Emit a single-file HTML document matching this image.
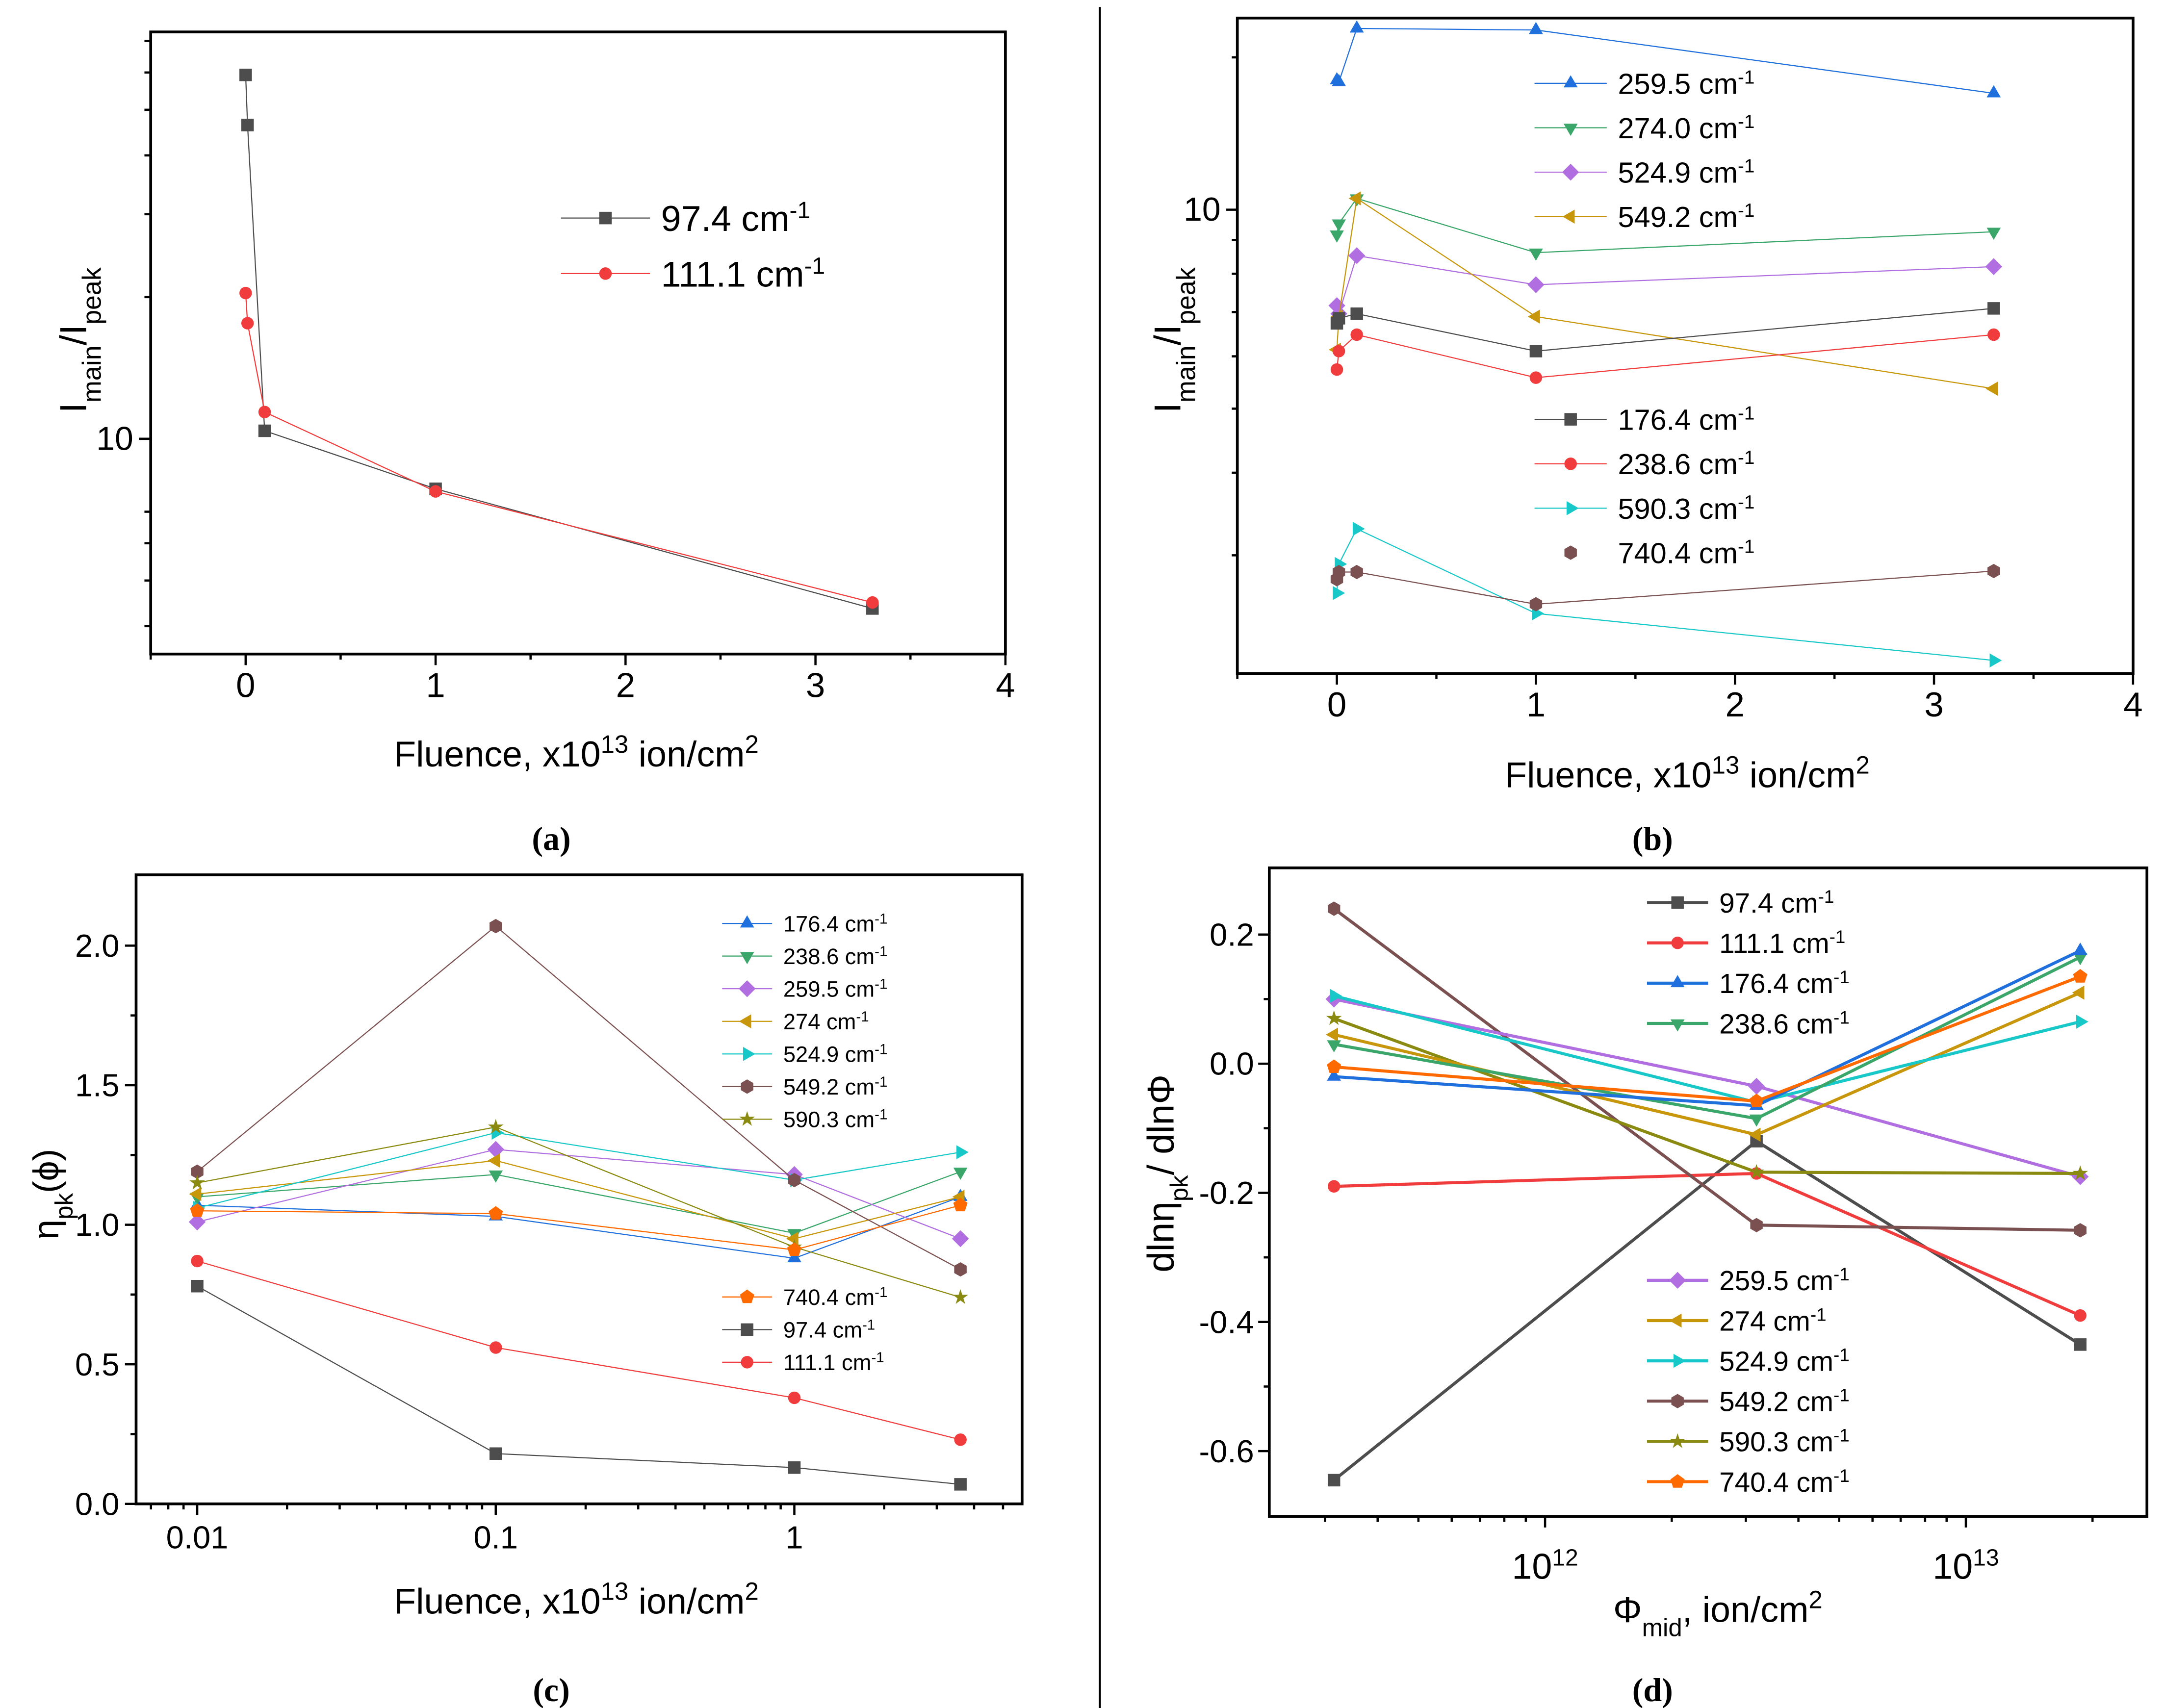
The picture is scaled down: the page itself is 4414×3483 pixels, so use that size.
<!DOCTYPE html>
<html><head><meta charset="utf-8"><style>html,body{margin:0;padding:0;background:#fff}svg{display:block}text{font-family:"Liberation Sans",sans-serif;fill:#000}</style></head>
<body>
<svg id="fig" xmlns="http://www.w3.org/2000/svg" width="4414" height="3483" viewBox="0 0 1559 1230" preserveAspectRatio="none">
<rect x="0" y="0" width="1559" height="1230" fill="#fff"/>
<line x1="792" y1="5" x2="792" y2="1232" stroke="#000" stroke-width="1.5"/>
<text transform="translate(62,245) rotate(-90)" text-anchor="middle" font-size="27">I<tspan baseline-shift="sub" font-size="19">main</tspan>/I<tspan baseline-shift="sub" font-size="19">peak</tspan></text>
<text x="415" y="552" text-anchor="middle" font-size="26">Fluence, x10<tspan baseline-shift="super" font-size="18">13</tspan> ion/cm<tspan baseline-shift="super" font-size="18">2</tspan></text>
<text x="397" y="612" text-anchor="middle" font-size="24" font-weight="bold" style="font-family:'Liberation Serif',serif">(a)</text>
<text transform="translate(850,245) rotate(-90)" text-anchor="middle" font-size="27">I<tspan baseline-shift="sub" font-size="19">main</tspan>/I<tspan baseline-shift="sub" font-size="19">peak</tspan></text>
<text x="1215" y="567" text-anchor="middle" font-size="26">Fluence, x10<tspan baseline-shift="super" font-size="18">13</tspan> ion/cm<tspan baseline-shift="super" font-size="18">2</tspan></text>
<text x="1190" y="612" text-anchor="middle" font-size="24" font-weight="bold" style="font-family:'Liberation Serif',serif">(b)</text>
<text transform="translate(42,860) rotate(-90)" text-anchor="middle" font-size="26">η<tspan baseline-shift="sub" font-size="18">pk</tspan>(ϕ)</text>
<text x="415" y="1162" text-anchor="middle" font-size="26">Fluence, x10<tspan baseline-shift="super" font-size="18">13</tspan> ion/cm<tspan baseline-shift="super" font-size="18">2</tspan></text>
<text x="397" y="1225" text-anchor="middle" font-size="24" font-weight="bold" style="font-family:'Liberation Serif',serif">(c)</text>
<text transform="translate(845,845) rotate(-90)" text-anchor="middle" font-size="27">dlnη<tspan baseline-shift="sub" font-size="18">pk</tspan>/ dlnΦ</text>
<text x="1237" y="1168" text-anchor="middle" font-size="26">Φ<tspan baseline-shift="sub" font-size="18">mid</tspan>, ion/cm<tspan baseline-shift="super" font-size="18">2</tspan></text>
<text x="1190" y="1225" text-anchor="middle" font-size="24" font-weight="bold" style="font-family:'Liberation Serif',serif">(d)</text>
</svg>
<script>
// ---- Panel (a) data ----
const aX = [0, 0.01, 0.1, 1, 3.3];
const a97 = [59.3, 46.4, 10.4, 7.83, 4.36];
const a111 = [20.4, 17.6, 11.4, 7.73, 4.49];
const aXTicks = [0, 1, 2, 3, 4];
const aYTicks = [10];
// ---- Panel (b) data ----
const bX = [0, 0.01, 0.1, 1, 3.3];
const b259 = [15.7, 15.6, 18.8, 18.7, 15.0];
const b274 = [9.17, 9.53, 10.4, 8.61, 9.26];
const b524 = [7.16, 6.96, 8.52, 7.70, 8.20];
const b549 = [6.14, 6.89, 10.4, 6.89, 5.36];
const b176 = [6.73, 6.85, 6.96, 6.11, 7.09];
const b238 = [5.73, 6.11, 6.47, 5.57, 6.47];
const b590 = [2.63, 2.91, 3.29, 2.45, 2.08];
const b740 = [2.76, 2.83, 2.83, 2.53, 2.84];
const bXTicks = [0, 1, 2, 3, 4];
const bYTicks = [10];
// ---- Panel (c) data ----
const cX = [0.01, 0.1, 1, 3.6];
const c176 = [1.07, 1.03, 0.88, 1.10];
const c238 = [1.10, 1.18, 0.97, 1.19];
const c259 = [1.01, 1.27, 1.18, 0.95];
const c274 = [1.11, 1.23, 0.95, 1.10];
const c524 = [1.06, 1.33, 1.16, 1.26];
const c549 = [1.19, 2.07, 1.16, 0.84];
const c590 = [1.15, 1.35, 0.92, 0.74];
const c740 = [1.05, 1.04, 0.91, 1.07];
const c97 = [0.78, 0.18, 0.13, 0.07];
const c111 = [0.87, 0.56, 0.38, 0.23];
const cXTicks = ["0.01", "0.1", "1"];
const cYTicks = ["0.0", "0.5", "1.0", "1.5", "2.0"];
// ---- Panel (d) data ----
const dX = [3.15e11, 3.18e12, 1.87e13];
const d97 = [-0.645, -0.12, -0.435];
const d111 = [-0.19, -0.17, -0.39];
const d176 = [-0.02, -0.065, 0.175];
const d238 = [0.03, -0.085, 0.165];
const d259 = [0.10, -0.035, -0.175];
const d274 = [0.045, -0.11, 0.11];
const d524 = [0.105, -0.06, 0.065];
const d549 = [0.24, -0.25, -0.258];
const d590 = [0.07, -0.168, -0.17];
const d740 = [-0.005, -0.058, 0.135];
const dYTicks = ["-0.6", "-0.4", "-0.2", "0.0", "0.2"];
const dXTicks = [12, 13];

const NS = "http://www.w3.org/2000/svg";
const svg = document.getElementById("fig");
const COL = {gray:"#4d4d4d", red:"#f03c3c", blue:"#1f6fdc", green:"#3aa66a", purple:"#b06ee0", gold:"#c8960a", cyan:"#18c8c8", brown:"#7a5050", olive:"#8a8a10", orange:"#ff6a00"};

function mk(tag, attrs, parent) {
  const el = document.createElementNS(NS, tag);
  for (const k in attrs) el.setAttribute(k, attrs[k]);
  (parent || svg).appendChild(el);
  return el;
}
function lin(d0, d1, p0, p1) { return v => p0 + (v - d0) * (p1 - p0) / (d1 - d0); }

function markerPath(shape, x, y, s) {
  const pts = [];
  const poly = (n, r, rot) => { for (let i = 0; i < n; i++) { const a = rot + i * 2 * Math.PI / n; pts.push([x + r * Math.cos(a), y + r * Math.sin(a)]); } };
  if (shape === "square") return `M${x-s},${y-s}h${2*s}v${2*s}h${-2*s}Z`;
  if (shape === "circle") return `M${x-s},${y}a${s},${s} 0 1,0 ${2*s},0a${s},${s} 0 1,0 ${-2*s},0Z`;
  if (shape === "up") poly(3, s*1.3, -Math.PI/2);
  else if (shape === "down") poly(3, s*1.3, Math.PI/2);
  else if (shape === "left") poly(3, s*1.3, Math.PI);
  else if (shape === "right") poly(3, s*1.3, 0);
  else if (shape === "diamond") poly(4, s*1.35, -Math.PI/2);
  else if (shape === "hex") poly(6, s*1.15, -Math.PI/2);
  else if (shape === "pent") poly(5, s*1.2, -Math.PI/2);
  else if (shape === "star") { for (let i = 0; i < 10; i++) { const a = -Math.PI/2 + i*Math.PI/5; const r = i%2 ? s*0.5 : s*1.3; pts.push([x + r*Math.cos(a), y + r*Math.sin(a)]); } }
  return "M" + pts.map(p => p[0].toFixed(2) + "," + p[1].toFixed(2)).join("L") + "Z";
}

function series(name, xs, ys, xv, yv, color, shape, s, lw) {
  const g = mk("g", {});
  
  
  const d = xv.map((v, i) => (i ? "L" : "M") + xs(v).toFixed(2) + "," + ys(yv[i]).toFixed(2)).join("");
  const line = mk("path", {d: d, fill: "none", stroke: color, "stroke-width": lw}, g);
  
  
  xv.forEach((v, i) => {
    const m = mk("path", {d: markerPath(shape, xs(v), ys(yv[i]), s), fill: color}, g);
    
    
  });
}

function frame(name, x0, y0, x1, y1) {
  const r = mk("rect", {x: x0, y: y0, width: x1 - x0, height: y1 - y0, fill: "none", stroke: "#000", "stroke-width": 2});
  
  
}
function tick(name, x1, y1, x2, y2) {
  const l = mk("line", {x1: x1, y1: y1, x2: x2, y2: y2, stroke: "#000", "stroke-width": 1.6});
  
  
}
function label(name, x, y, html, size, anchor) {
  const t = mk("text", {x: x, y: y, "font-size": size, "text-anchor": anchor || "middle"});
  t.innerHTML = html;
  
  
}
function legend(name, x0, x1, y, color, shape, s, lw, text, size, noLine) {
  const g = mk("g", {});
  
  
  if (!noLine) mk("line", {x1: x0, y1: y, x2: x1, y2: y, stroke: color, "stroke-width": lw}, g);
  mk("path", {d: markerPath(shape, (x0 + x1) / 2, y, s), fill: color}, g);
  const t = mk("text", {x: x1 + 8, y: y + size * 0.36, "font-size": size}, g);
  t.innerHTML = text + ' cm<tspan baseline-shift="super" font-size="' + (size * 0.65) + '">-1</tspan>';
}

// ================= Panel (a) =================
const axs = lin(-0.5, 4, 108.5, 724);
const ays = v => 316 - 339 * Math.log10(v / 10);
series("a-series-97-4", axs, ays, aX, a97, COL.gray, "square", 4.5, 0.8);
series("a-series-111-1", axs, ays, aX, a111, COL.red, "circle", 4.5, 0.8);
frame("a-plot-frame", 108.5, 23, 724, 471);
aXTicks.forEach(v => { tick("a-x-tick", axs(v), 471, axs(v), 479); label("a-x-tick-label", axs(v), 502, String(v), 25); });
[-0.5, 0.5, 1.5, 2.5, 3.5].forEach(v => tick("a-x-minor-tick", axs(v), 471, axs(v), 475));
aYTicks.forEach(v => { tick("a-y-tick", 100, ays(v), 108.5, ays(v)); label("a-y-tick-label", 96, ays(v) + 8, String(v), 24, "end"); });
[4, 5, 6, 7, 20, 30, 40, 50, 60, 70].forEach(v => tick("a-y-minor-tick", 104, ays(v), 108.5, ays(v)));
legend("a-legend-97-4", 404, 468, 157, COL.gray, "square", 4.5, 0.8, "97.4", 26);
legend("a-legend-111-1", 404, 468, 197, COL.red, "circle", 4.5, 0.8, "111.1", 26);

// ================= Panel (b) =================
const bxs = lin(-0.5, 4, 891, 1536);
const bys = v => 151 - 476 * Math.log10(v / 10);
series("b-series-259-5", bxs, bys, bX, b259, COL.blue, "up", 4.5, 0.8);
series("b-series-274-0", bxs, bys, bX, b274, COL.green, "down", 4.5, 0.8);
series("b-series-524-9", bxs, bys, bX, b524, COL.purple, "diamond", 4.5, 0.8);
series("b-series-549-2", bxs, bys, bX, b549, COL.gold, "left", 4.5, 0.8);
series("b-series-176-4", bxs, bys, bX, b176, COL.gray, "square", 4.5, 0.8);
series("b-series-238-6", bxs, bys, bX, b238, COL.red, "circle", 4.5, 0.8);
series("b-series-590-3", bxs, bys, bX, b590, COL.cyan, "right", 4.5, 0.8);
series("b-series-740-4", bxs, bys, bX, b740, COL.brown, "hex", 4.5, 0.8);
frame("b-plot-frame", 891, 13, 1536, 485);
bXTicks.forEach(v => { tick("b-x-tick", bxs(v), 485, bxs(v), 493); label("b-x-tick-label", bxs(v), 516, String(v), 25); });
[-0.5, 0.5, 1.5, 2.5, 3.5].forEach(v => tick("b-x-minor-tick", bxs(v), 485, bxs(v), 489));
bYTicks.forEach(v => { tick("b-y-tick", 883, bys(v), 891, bys(v)); label("b-y-tick-label", 879, bys(v) + 8, String(v), 24, "end"); });
[3, 4, 5, 6, 7, 8, 9, 17].forEach(v => tick("b-y-minor-tick", 887, bys(v), 891, bys(v)));
[["259.5", COL.blue, "up"], ["274.0", COL.green, "down"], ["524.9", COL.purple, "diamond"], ["549.2", COL.gold, "left"]].forEach((e, i) => legend("b-legend-" + e[0], 1105, 1157, 60 + 32 * i, e[1], e[2], 4.5, 0.8, e[0], 21));
[["176.4", COL.gray, "square"], ["238.6", COL.red, "circle"], ["590.3", COL.cyan, "right"]].forEach((e, i) => legend("b-legend-" + e[0], 1105, 1157, 302 + 32 * i, e[1], e[2], 4.5, 0.8, e[0], 21));
legend("b-legend-740.4", 1105, 1157, 398, COL.brown, "hex", 4.5, 0.8, "740.4", 21, true);

// ================= Panel (c) =================
const cxs = v => 142 + 215 * (Math.log10(v) + 2);
const cys = v => 1083 - 201 * v;
series("c-series-176-4", cxs, cys, cX, c176, COL.blue, "up", 4.5, 0.8);
series("c-series-238-6", cxs, cys, cX, c238, COL.green, "down", 4.5, 0.8);
series("c-series-259-5", cxs, cys, cX, c259, COL.purple, "diamond", 4.5, 0.8);
series("c-series-274", cxs, cys, cX, c274, COL.gold, "left", 4.5, 0.8);
series("c-series-524-9", cxs, cys, cX, c524, COL.cyan, "right", 4.5, 0.8);
series("c-series-549-2", cxs, cys, cX, c549, COL.brown, "hex", 4.5, 0.8);
series("c-series-590-3", cxs, cys, cX, c590, COL.olive, "star", 4.5, 0.8);
series("c-series-740-4", cxs, cys, cX, c740, COL.orange, "pent", 4.5, 0.8);
series("c-series-97-4", cxs, cys, cX, c97, COL.gray, "square", 4.5, 0.8);
series("c-series-111-1", cxs, cys, cX, c111, COL.red, "circle", 4.5, 0.8);
frame("c-plot-frame", 98, 630, 736, 1083);
cXTicks.forEach(v => { const x = cxs(parseFloat(v)); tick("c-x-tick", x, 1083, x, 1091); label("c-x-tick-label", x, 1115, v, 23); });
[0.001, 0.01, 0.1, 1].forEach(dec => { for (let k = 2; k <= 9; k++) { const v = dec * k; const x = cxs(v); if (x > 99 && x < 735) tick("c-x-minor-tick", x, 1083, x, 1087); } });
cYTicks.forEach(v => { const y = cys(parseFloat(v)); tick("c-y-tick", 90, y, 98, y); label("c-y-tick-label", 86, y + 8, v, 23, "end"); });
[0.25, 0.75, 1.25, 1.75].forEach(v => tick("c-y-minor-tick", 94, cys(v), 98, cys(v)));
[["176.4", COL.blue, "up"], ["238.6", COL.green, "down"], ["259.5", COL.purple, "diamond"], ["274", COL.gold, "left"], ["524.9", COL.cyan, "right"], ["549.2", COL.brown, "hex"], ["590.3", COL.olive, "star"]].forEach((e, i) => legend("c-legend-" + e[0], 520, 556, 665 + 23.5 * i, e[1], e[2], 4.5, 0.8, e[0], 16));
[["740.4", COL.orange, "pent"], ["97.4", COL.gray, "square"], ["111.1", COL.red, "circle"]].forEach((e, i) => legend("c-legend-" + e[0], 520, 556, 934 + 23.5 * i, e[1], e[2], 4.5, 0.8, e[0], 16));

// ================= Panel (d) =================
const dxs = v => 1112.6 + 303 * (Math.log10(v) - 12);
const dys = v => 766 - 465 * v;
series("d-series-97-4", dxs, dys, dX, d97, COL.gray, "square", 4.5, 2.2);
series("d-series-111-1", dxs, dys, dX, d111, COL.red, "circle", 4.5, 2.2);
series("d-series-549-2", dxs, dys, dX, d549, COL.brown, "hex", 4.5, 2.2);
series("d-series-259-5", dxs, dys, dX, d259, COL.purple, "diamond", 4.5, 2.2);
series("d-series-590-3", dxs, dys, dX, d590, COL.olive, "star", 4.5, 2.2);
series("d-series-274", dxs, dys, dX, d274, COL.gold, "left", 4.5, 2.2);
series("d-series-524-9", dxs, dys, dX, d524, COL.cyan, "right", 4.5, 2.2);
series("d-series-238-6", dxs, dys, dX, d238, COL.green, "down", 4.5, 2.2);
series("d-series-176-4", dxs, dys, dX, d176, COL.blue, "up", 4.5, 2.2);
series("d-series-740-4", dxs, dys, dX, d740, COL.orange, "pent", 4.5, 2.2);
frame("d-plot-frame", 914, 625, 1546, 1092);
dXTicks.forEach(p => { const x = dxs(Math.pow(10, p)); tick("d-x-tick", x, 1092, x, 1100); label("d-x-tick-label", x, 1137, '10<tspan baseline-shift="super" font-size="17">' + p + '</tspan>', 26); });
[1e11, 1e12, 1e13].forEach(dec => { for (let k = 2; k <= 9; k++) { const x = dxs(dec * k); if (x > 915 && x < 1545) tick("d-x-minor-tick", x, 1092, x, 1096); } });
dYTicks.forEach(v => { const y = dys(parseFloat(v)); tick("d-y-tick", 906, y, 914, y); label("d-y-tick-label", 903, y + 8, v, 23, "end"); });
[-0.5, -0.3, -0.1, 0.1].forEach(v => tick("d-y-minor-tick", 910, dys(v), 914, dys(v)));
[["97.4", COL.gray, "square"], ["111.1", COL.red, "circle"], ["176.4", COL.blue, "up"], ["238.6", COL.green, "down"]].forEach((e, i) => legend("d-legend-" + e[0], 1186, 1230, 650 + 29 * i, e[1], e[2], 4.5, 2.2, e[0], 20));
[["259.5", COL.purple, "diamond"], ["274", COL.gold, "left"], ["524.9", COL.cyan, "right"], ["549.2", COL.brown, "hex"], ["590.3", COL.olive, "star"], ["740.4", COL.orange, "pent"]].forEach((e, i) => legend("d-legend-" + e[0], 1186, 1230, 922 + 29 * i, e[1], e[2], 4.5, 2.2, e[0], 20));
</script>
</body></html>
